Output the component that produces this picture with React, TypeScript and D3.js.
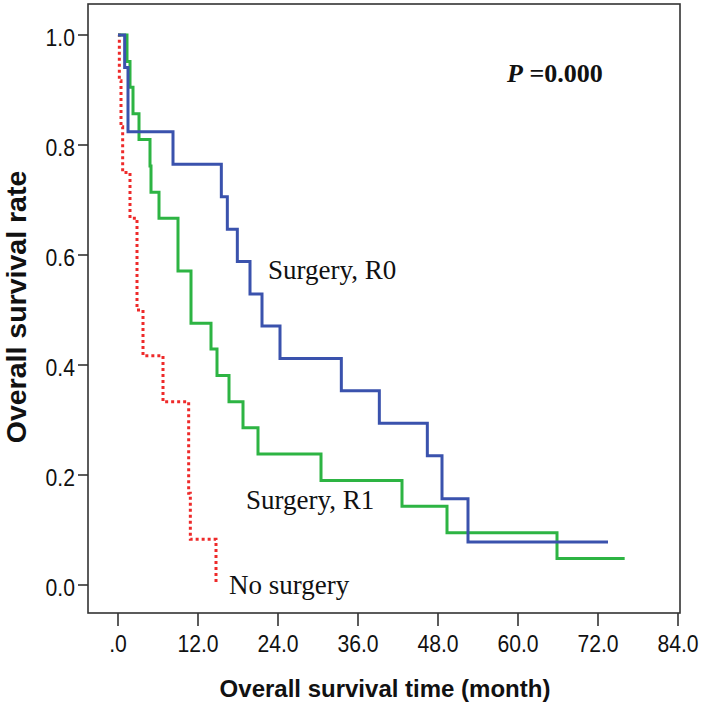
import React from "react";
import * as d3 from "d3";

const xTicks = [0, 12, 24, 36, 48, 60, 72, 84];
const xTickLabels = [".0", "12.0", "24.0", "36.0", "48.0", "60.0", "72.0", "84.0"];
const yTicks = [0, 0.2, 0.4, 0.6, 0.8, 1.0];
const yTickLabels = ["0.0", "0.2", "0.4", "0.6", "0.8", "1.0"];

const r0Times = [0, 1.0, 1.5, 8.25, 15.5, 16.4, 17.9, 19.8, 21.6, 24.3, 33.5, 39.2, 46.4, 48.6, 52.5, 73.5];
const r0Surv = [1.0, 0.941, 0.824, 0.765, 0.706, 0.647, 0.588, 0.529, 0.471, 0.412, 0.353, 0.294, 0.235, 0.157, 0.078, 0.078];

const r1Times = [0, 1.35, 1.8, 2.25, 3.15, 4.8, 4.95, 6.15, 9.0, 10.95, 13.95, 14.85, 16.65, 18.75, 21.0, 30.45, 42.6, 49.35, 65.85, 76.0];
const r1Surv = [1.0, 0.952, 0.905, 0.857, 0.81, 0.762, 0.714, 0.667, 0.571, 0.476, 0.429, 0.381, 0.333, 0.286, 0.238, 0.19, 0.143, 0.095, 0.048, 0.048];

const noTimes = [0, 0.2, 0.45, 0.7, 1.8, 2.85, 3.75, 6.75, 10.6, 10.85, 14.7];
const noSurv = [1.0, 0.917, 0.833, 0.75, 0.667, 0.5, 0.417, 0.333, 0.167, 0.083, 0.0];

const seriesNames = ["Surgery, R0", "Surgery, R1", "No surgery"];

export default function App() {
  const W = 702, H = 708;
  const x = d3.scaleLinear().domain([0, 84]).range([118, 678]);
  const y = d3.scaleLinear().domain([0, 1]).range([585, 35]);
  const line = d3
    .line<[number, number]>()
    .x((d) => x(d[0]))
    .y((d) => y(d[1]))
    .curve(d3.curveStepAfter);
  const zip = (t: number[], s: number[]) => t.map((v, i) => [v, s[i]] as [number, number]);

  const frame = { left: 88, right: 680, top: 4, bottom: 613 };
  const sans = "'Liberation Sans', Arial, sans-serif";
  const serif = "'Liberation Serif', 'Times New Roman', serif";

  return (
    <svg width={W} height={H} style={{ position: "absolute", left: 0, top: 0, background: "#fff" }}>
      <rect x={0} y={0} width={W} height={H} fill="#fff" />
      <rect
        x={frame.left}
        y={frame.top}
        width={frame.right - frame.left}
        height={frame.bottom - frame.top}
        fill="none"
        stroke="#333"
        strokeWidth={1.6}
      />
      {yTicks.map((v, i) => (
        <g key={"y" + i}>
          <line x1={frame.left - 10} x2={frame.left} y1={y(v)} y2={y(v)} stroke="#333" strokeWidth={1.6} />
          <g transform={`translate(${frame.left - 13},${y(v) + 11}) scale(0.9,1)`}>
            <text x={0} y={0} textAnchor="end" fontFamily={sans} fontSize={23.5} fill="#111">
              {yTickLabels[i]}
            </text>
          </g>
        </g>
      ))}
      {xTicks.map((v, i) => (
        <g key={"x" + i}>
          <line x1={x(v)} x2={x(v)} y1={frame.bottom} y2={frame.bottom + 13} stroke="#333" strokeWidth={1.6} />
          <g transform={`translate(${x(v)},652) scale(0.9,1)`}>
            <text x={0} y={0} textAnchor="middle" fontFamily={sans} fontSize={23.5} fill="#111">
              {xTickLabels[i]}
            </text>
          </g>
        </g>
      ))}
      <text x={385} y={697} textAnchor="middle" fontFamily={sans} fontWeight="bold" fontSize={24} fill="#111">
        Overall survival time (month)
      </text>
      <text
        transform={`translate(26,307) rotate(-90)`}
        textAnchor="middle"
        fontFamily={sans}
        fontWeight="bold"
        fontSize={28.5}
        fill="#111"
      >
        Overall survival rate
      </text>

      <path d={line(zip(noTimes, noSurv)) || ""} fill="none" stroke="#ee2a2a" strokeWidth={3} strokeDasharray="3,3" />
      <path d={line(zip(r1Times, r1Surv)) || ""} fill="none" stroke="#2db443" strokeWidth={3} />
      <path d={line(zip(r0Times, r0Surv)) || ""} fill="none" stroke="#3a52ad" strokeWidth={3} />

      <text x={268} y={279} fontFamily={serif} fontSize={27} fill="#111">{seriesNames[0]}</text>
      <text x={246} y={509} fontFamily={serif} fontSize={27} fill="#111">{seriesNames[1]}</text>
      <text x={229} y={594} fontFamily={serif} fontSize={27} fill="#111">{seriesNames[2]}</text>

      <text x={507} y={82} fontFamily={serif} fontSize={26} fontWeight="bold" fill="#111">
        <tspan fontStyle="italic">P</tspan>
        <tspan> =0.000</tspan>
      </text>
    </svg>
  );
}
